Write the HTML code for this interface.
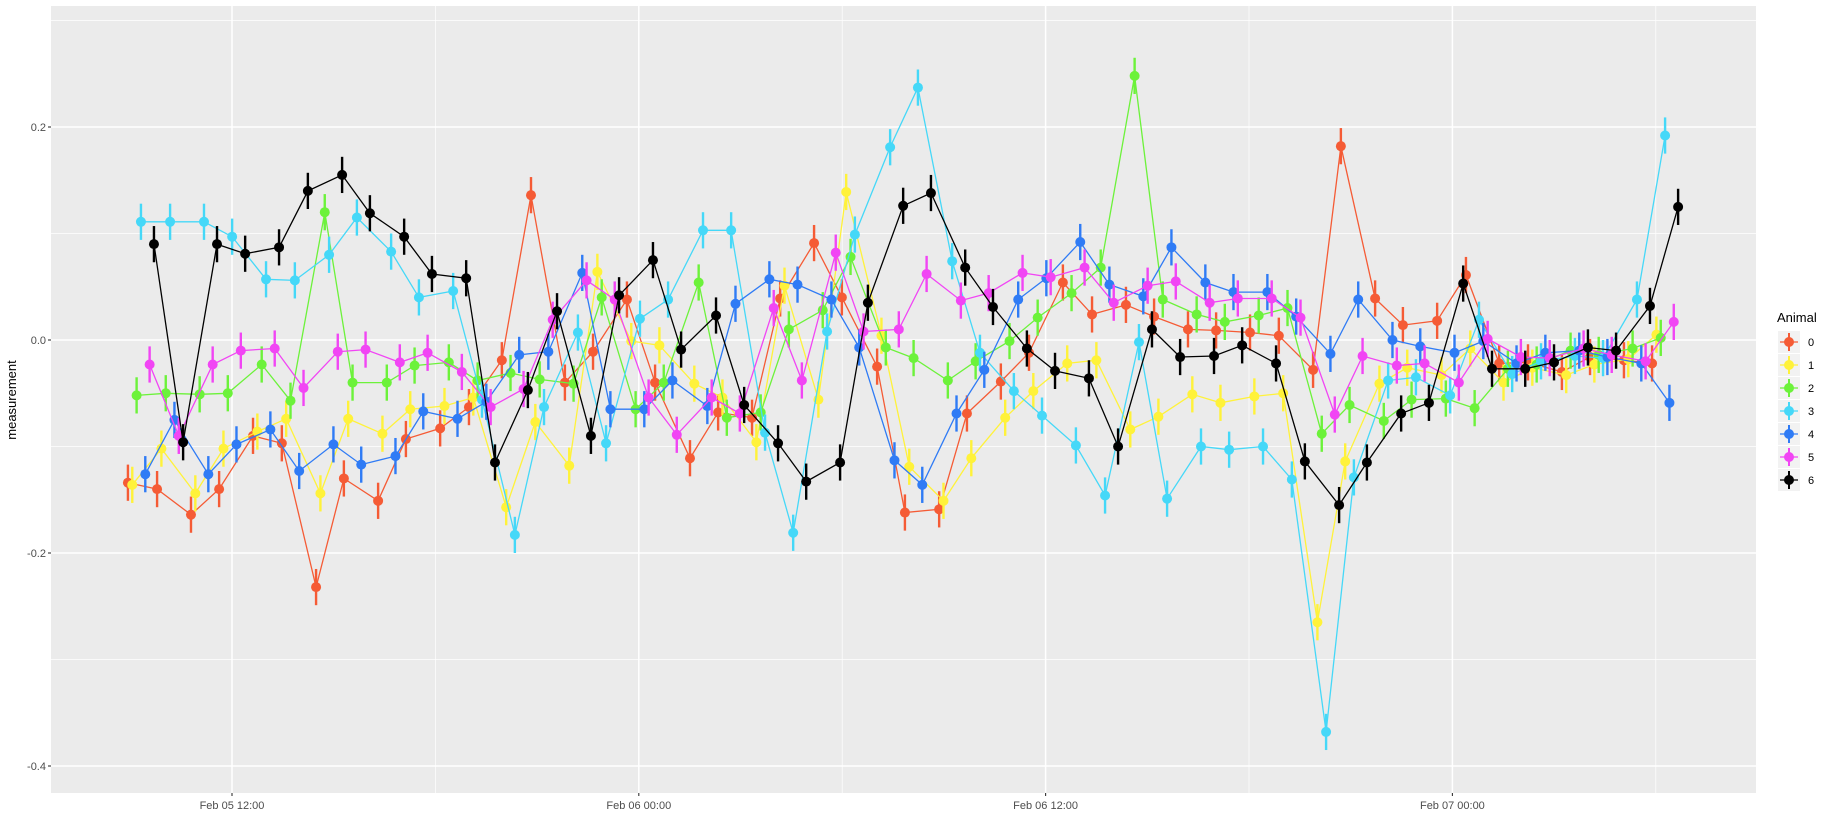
<!DOCTYPE html>
<html><head><meta charset="utf-8"><style>
html,body{margin:0;padding:0;background:#fff;}
svg{display:block;font-family:"Liberation Sans",sans-serif;}
</style></head><body>
<svg id="chart" width="1837" height="835" viewBox="0 0 1837 835" xmlns="http://www.w3.org/2000/svg">
<rect x="51" y="6" width="1705" height="787" fill="#EBEBEB"/>
<g id="grid"></g>
<g id="axes"></g>
<g id="series"></g>
<text transform="translate(16,400) rotate(-90)" text-anchor="middle" font-size="13" fill="#000">measurement</text>
<g id="legend"></g>
</svg>
<script>
const times = [-3.07,-2.21,-1.21,-0.38,0.62,1.47,2.48,3.30,4.31,5.13,6.14,6.99,7.96,8.82,9.82,10.65,11.65,12.48,13.51,14.34,15.34,16.17,17.17,17.99,19.03,19.85,20.86,21.68,22.68,23.51,24.51,25.37,26.37,27.20,28.20,29.03,30.03,30.88,31.89,32.71,33.72,34.54,35.55,36.40,37.38,38.23,39.23,40.06,41.06,41.89];
const animals = ["0","1","2","3","4","5","6"];
const colors = ["#F55B35","#FFF23A","#6CF23A","#45D8F8","#2F7BF5","#F145F4","#000000"];
const animal0 = [-0.134,-0.140,-0.164,-0.140,-0.090,-0.097,-0.232,-0.130,-0.151,-0.093,-0.083,-0.063,-0.019,0.136,-0.040,-0.011,0.038,-0.040,-0.111,-0.068,-0.073,0.039,0.091,0.040,-0.025,-0.162,-0.159,-0.069,-0.039,-0.012,0.054,0.024,0.033,0.022,0.010,0.009,0.007,0.004,-0.028,0.182,0.039,0.014,0.018,0.061,-0.022,-0.021,-0.030,-0.016,-0.019,-0.022];
const animal1 = [-0.136,-0.102,-0.144,-0.102,-0.086,-0.074,-0.144,-0.074,-0.088,-0.065,-0.062,-0.054,-0.157,-0.077,-0.118,0.064,-0.001,-0.005,-0.041,-0.054,-0.096,0.051,-0.056,0.139,0.004,-0.119,-0.151,-0.111,-0.073,-0.048,-0.022,-0.019,-0.084,-0.072,-0.051,-0.059,-0.053,-0.050,-0.265,-0.114,-0.041,-0.026,-0.033,-0.008,-0.040,-0.026,-0.033,-0.023,-0.018,0.005];
const animal2 = [-0.052,-0.050,-0.051,-0.050,-0.023,-0.057,0.120,-0.040,-0.040,-0.024,-0.021,-0.038,-0.031,-0.037,-0.041,0.040,-0.065,-0.040,0.054,-0.073,-0.068,0.010,0.028,0.078,-0.007,-0.017,-0.038,-0.020,-0.001,0.021,0.044,0.068,0.248,0.038,0.024,0.017,0.023,0.030,-0.088,-0.061,-0.076,-0.056,-0.055,-0.064,-0.027,-0.023,-0.010,-0.014,-0.008,0.002];
const animal3 = [0.111,0.111,0.111,0.097,0.057,0.056,0.080,0.115,0.083,0.040,0.046,-0.056,-0.183,-0.063,0.007,-0.097,0.020,0.038,0.103,0.103,-0.087,-0.181,0.008,0.099,0.181,0.237,0.074,-0.012,-0.048,-0.071,-0.099,-0.146,-0.002,-0.149,-0.100,-0.103,-0.100,-0.131,-0.368,-0.129,-0.038,-0.035,-0.052,0.019,-0.032,-0.020,-0.015,-0.017,0.038,0.192];
const animal4 = [-0.126,-0.075,-0.126,-0.098,-0.084,-0.123,-0.098,-0.117,-0.109,-0.067,-0.074,-0.058,-0.014,-0.011,0.063,-0.065,-0.065,-0.038,-0.062,0.034,0.057,0.052,0.038,-0.007,-0.113,-0.136,-0.069,-0.028,0.038,0.058,0.092,0.052,0.041,0.087,0.054,0.045,0.045,0.022,-0.013,0.038,0.000,-0.006,-0.012,-0.001,-0.022,-0.012,-0.010,-0.016,-0.022,-0.059];
const animal5 = [-0.023,-0.090,-0.023,-0.010,-0.008,-0.045,-0.011,-0.009,-0.021,-0.012,-0.030,-0.063,-0.046,0.019,0.056,0.038,-0.054,-0.089,-0.054,-0.069,0.030,-0.038,0.082,0.008,0.010,0.062,0.037,0.044,0.063,0.059,0.068,0.035,0.051,0.055,0.035,0.039,0.039,0.021,-0.070,-0.015,-0.024,-0.022,-0.040,0.001,-0.016,-0.017,-0.008,-0.014,-0.020,0.017];
const animal6 = [0.090,-0.096,0.090,0.081,0.087,0.140,0.155,0.119,0.097,0.062,0.058,-0.115,-0.047,0.027,-0.090,0.042,0.075,-0.009,0.023,-0.061,-0.097,-0.133,-0.115,0.035,0.126,0.138,0.068,0.031,-0.008,-0.029,-0.036,-0.100,0.010,-0.016,-0.015,-0.005,-0.022,-0.114,-0.155,-0.115,-0.069,-0.059,0.053,-0.027,-0.027,-0.021,-0.007,-0.010,0.032,0.125];
const seriesValues = [animal0,animal1,animal2,animal3,animal4,animal5,animal6];
const errHalf = 0.017;
const yTicks = [0.2,0.0,-0.2,-0.4];
const yTickLabels = ["0.2","0.0","-0.2","-0.4"];
const yMinor = [0.3,0.1,-0.1,-0.3];
const xTicks = [0,12,24,36];
const xTickLabels = ["Feb 05 12:00","Feb 06 00:00","Feb 06 12:00","Feb 07 00:00"];
const xMinor = [6,18,30,42];

const NS="http://www.w3.org/2000/svg";
const X0=51,X1=1756,Y0=6,Y1=793;
function xs(h){return 232+h*33.9;}
function ys(v){return 340-v*1065;}
function mk(tag,attrs,parent){const e=document.createElementNS(NS,tag);for(const k in attrs)e.setAttribute(k,attrs[k]);parent.appendChild(e);return e;}
const grid=document.getElementById('grid'),axes=document.getElementById('axes'),ser=document.getElementById('series'),leg=document.getElementById('legend');

yMinor.forEach(v=>{const l=mk('line',{x1:X0,x2:X1,y1:ys(v),y2:ys(v),stroke:'#fff','stroke-width':0.7},grid);

});
xMinor.forEach(h=>{const l=mk('line',{x1:xs(h),x2:xs(h),y1:Y0,y2:Y1,stroke:'#fff','stroke-width':0.7},grid);

});
yTicks.forEach((v,i)=>{const l=mk('line',{x1:X0,x2:X1,y1:ys(v),y2:ys(v),stroke:'#fff','stroke-width':1.5},grid);


const t=mk('line',{x1:X0-3,x2:X0,y1:ys(v),y2:ys(v),stroke:'#333','stroke-width':1.1},axes);


const tx=mk('text',{x:X0-5,y:ys(v)+4,'text-anchor':'end','font-size':11,fill:'#4D4D4D'},axes);tx.textContent=yTickLabels[i];

});
xTicks.forEach((h,i)=>{const l=mk('line',{x1:xs(h),x2:xs(h),y1:Y0,y2:Y1,stroke:'#fff','stroke-width':1.5},grid);


const t=mk('line',{x1:xs(h),x2:xs(h),y1:Y1,y2:Y1+3,stroke:'#333','stroke-width':1.1},axes);


const tx=mk('text',{x:xs(h),y:Y1+16,'text-anchor':'middle','font-size':11,fill:'#4D4D4D'},axes);tx.textContent=xTickLabels[i];

});

seriesValues.forEach((vals,k)=>{
  const g=mk('g',{},ser);
  
  
  const dodge=k*0.128;
  const pts=vals.map((v,i)=>xs(times[i]+dodge).toFixed(1)+','+ys(v).toFixed(1)).join(' ');
  const pl=mk('polyline',{points:pts,fill:'none',stroke:colors[k],'stroke-width':1.3},g);
  
  
  vals.forEach((v,i)=>{
    const x=xs(times[i]+dodge);
    const eb=mk('line',{x1:x,x2:x,y1:ys(v+errHalf),y2:ys(v-errHalf),stroke:colors[k],'stroke-width':2.4},g);
    
    
    const c=mk('circle',{cx:x,cy:ys(v),r:5,fill:colors[k]},g);
    
    
  });
});

const lt=mk('text',{x:1777,y:322,'font-size':13,fill:'#000'},leg);lt.textContent='Animal';


animals.forEach((a,k)=>{
  const cy=342+k*23;
  const g=mk('g',{},leg);
  
  
  mk('rect',{x:1778,y:cy-11,width:22,height:22,fill:'#F2F2F2'},g);
  mk('line',{x1:1780,x2:1798,y1:cy,y2:cy,stroke:colors[k],'stroke-width':1.3},g);
  mk('line',{x1:1789,x2:1789,y1:cy-9,y2:cy+9,stroke:colors[k],'stroke-width':2},g);
  mk('circle',{cx:1789,cy:cy,r:5,fill:colors[k]},g);
  const t=mk('text',{x:1808,y:cy+4,'font-size':11,fill:'#000'},g);t.textContent=a;
});
</script>
</body></html>
